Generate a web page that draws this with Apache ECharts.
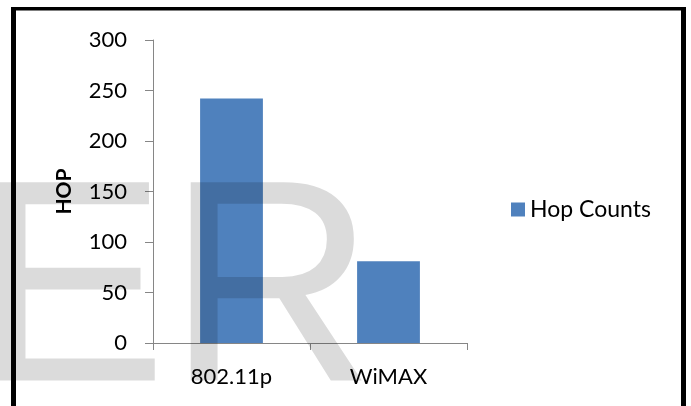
<!DOCTYPE html>
<html>
<head>
<meta charset="utf-8">
<script src="https://cdn.jsdelivr.net/npm/echarts@6/dist/echarts.min.js"></script>
<style>
  html, body { margin: 0; padding: 0; background: #ffffff; }
  #chart { width: 691px; height: 406px; }
</style>
</head>
<body>
<div id="chart"></div>
<script>
// Hop counts per wireless technology
const categories = ['802.11p', 'WiMAX'];
const hopCounts = [242, 81];
const seriesName = 'Hop Counts';
const yTicks = { min: 0, max: 300, interval: 50 };

const FONT = 'Lato';
const AXIS_GRAY = '#868686';

const chart = echarts.init(document.getElementById('chart'), null, { renderer: 'canvas' });

chart.setOption({
  animation: false,
  backgroundColor: '#ffffff',
  grid: { left: 153, right: 224, top: 40, bottom: 63, containLabel: false },
  legend: {
    data: [seriesName],
    orient: 'vertical',
    left: 506,
    top: 193,
    itemWidth: 14,
    itemHeight: 14,
    itemGap: 6,
    icon: 'rect',
    textStyle: { fontFamily: FONT, fontSize: 23, color: '#000000', padding: [0, 0, 0, 0] }
  },
  xAxis: {
    type: 'category',
    data: categories,
    axisLine: { show: true, lineStyle: { color: AXIS_GRAY, width: 1 } },
    axisTick: { show: true, alignWithLabel: false, length: 7, lineStyle: { color: AXIS_GRAY } },
    axisLabel: { fontFamily: FONT, fontSize: 22, color: '#000000', margin: 23 },
    splitLine: { show: false }
  },
  yAxis: {
    type: 'value',
    min: yTicks.min,
    max: yTicks.max,
    interval: yTicks.interval,
    name: 'HOP',
    nameLocation: 'middle',
    nameRotate: 90,
    nameGap: 78,
    nameTextStyle: { fontFamily: FONT, fontSize: 21, fontWeight: 'bold', color: '#000000' },
    axisLine: { show: true, lineStyle: { color: AXIS_GRAY, width: 1 } },
    axisTick: { show: true, length: 8, lineStyle: { color: AXIS_GRAY } },
    axisLabel: { fontFamily: FONT, fontSize: 22, color: '#000000', margin: 26 },
    splitLine: { show: false }
  },
  series: [{
    name: seriesName,
    type: 'bar',
    data: hopCounts,
    barWidth: '40%',
    itemStyle: { color: '#4f81bd' }
  }],
  graphic: [
    // translucent "ER" stamp laid across the plot
    {
      type: 'text',
      z: 100,
      silent: true,
      x: -25,
      y: 301,
      style: {
        text: 'ER',
        font: 'normal 288px "Liberation Sans"',
        fill: 'rgba(0,0,0,0.14)',
        align: 'left',
        verticalAlign: 'middle'
      }
    },
    // black frame around the chart (bottom edge runs off the page)
    { type: 'line', z: 110, silent: true, shape: { x1: 13.5, y1: 7, x2: 13.5, y2: 420 }, style: { stroke: '#000', lineWidth: 5 } },
    { type: 'line', z: 110, silent: true, shape: { x1: 11, y1: 8.75, x2: 686, y2: 8.75 }, style: { stroke: '#000', lineWidth: 3.5 } },
    { type: 'line', z: 110, silent: true, shape: { x1: 683.5, y1: 7, x2: 683.5, y2: 420 }, style: { stroke: '#000', lineWidth: 5 } }
  ]
});
</script>
</body>
</html>
